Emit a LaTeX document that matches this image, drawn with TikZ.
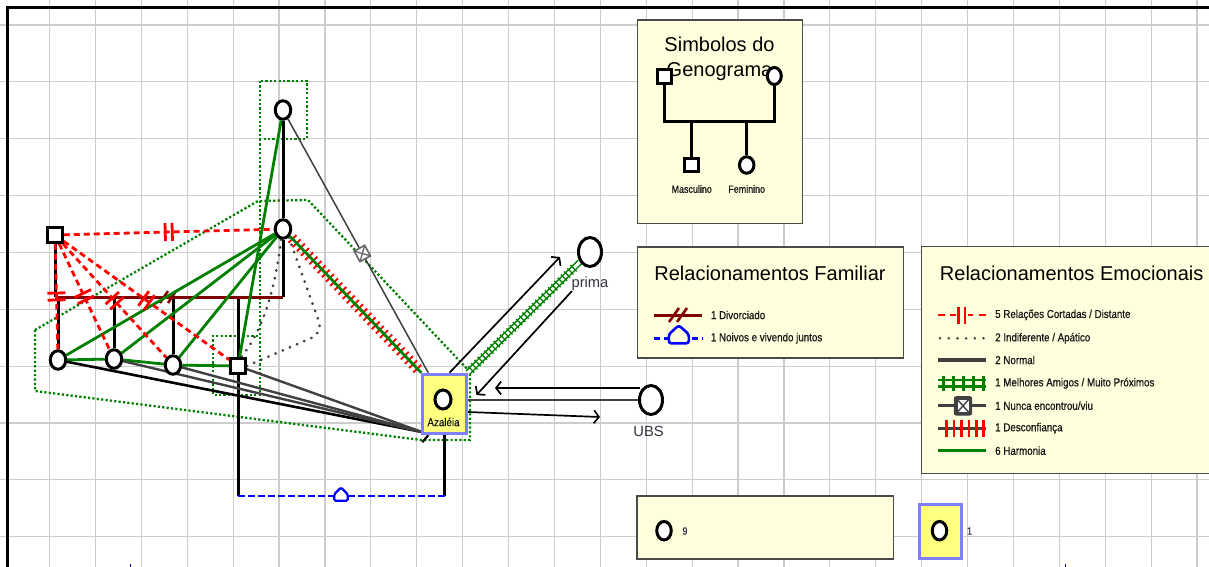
\documentclass[tikz,border=0pt]{standalone}
\usepackage{fontspec}
\setmainfont{Liberation Sans}
\newfontfamily\narrowsf[FakeStretch=0.85, FakeBold=0.5]{Liberation Sans}
\usetikzlibrary{shapes.geometric,arrows.meta,decorations.markings,calc}
\definecolor{gridgray}{HTML}{CDCDCD}
\definecolor{cream}{HTML}{FFFFDD}
\definecolor{azfill}{HTML}{FFFF80}
\definecolor{azedge}{HTML}{7F7FFF}
\definecolor{harmgreen}{HTML}{008000}
\definecolor{divred}{HTML}{800000}
\definecolor{normgray}{HTML}{404040}
\definecolor{boxedge}{HTML}{4A4A4A}
\definecolor{txtdark}{HTML}{141414}
\definecolor{lbl}{HTML}{333340}
\definecolor{noivoblue}{HTML}{0000FF}
\definecolor{cntlbl}{HTML}{303050}
\pgfdeclarelayer{gridlayer}
\pgfdeclarelayer{links}
\pgfsetlayers{gridlayer,links,main}
\tikzset{
  fem/.style={ellipse, draw=black, line width=3pt, fill=white, minimum width=15.5pt, minimum height=18.5pt, inner sep=0pt},
  masc/.style={rectangle, draw=black, line width=3pt, fill=white, minimum size=14.5pt, inner sep=0pt},
  azbox/.style={rectangle, draw=azedge, fill=azfill, line width=3pt, minimum width=43.5pt, minimum height=59.5pt, inner sep=0pt},
  legbox/.style={rectangle, draw=boxedge, fill=cream, line width=1.5pt, inner sep=0pt},
  legtitle/.style={font=\fontsize{20pt}{24pt}\selectfont, text=black, inner sep=0pt},
  legitem/.style={font=\narrowsf\fontsize{11.5pt}{13pt}\selectfont, text=txtdark, anchor=west, inner sep=0pt},
  namelbl/.style={font=\fontsize{14.7pt}{17pt}\selectfont, text=lbl, inner sep=0pt},
  cntlabel/.style={font=\narrowsf\fontsize{10.5pt}{12pt}\selectfont, text=cntlbl, inner sep=0pt},
  gen/.style={draw=black, line width=3pt},
  divline/.style={draw=divred, line width=3pt,
    postaction={decorate, decoration={markings, mark=at position 0.5 with {\draw[divred, line width=2.6pt] (-9,6) -- (-1,-6) (-1,6) -- (7,-6);}}}},
  cutrel/.style={draw=red, line width=2.8pt, dash pattern=on 6pt off 4pt,
    postaction={decorate, decoration={markings, mark=at position 0.5 with {\draw[red, solid, line width=2.8pt] (-3.5,-9) -- (-3.5,9) (3.5,-9) -- (3.5,9);}}}},
  harm/.style={draw=harmgreen, line width=2.8pt},
  normal/.style={draw=normgray, line width=2.4pt},
  normalthin/.style={draw=normgray, line width=1.5pt},
  indiff/.style={draw=normgray, line width=2.8pt, line cap=round, dash pattern=on 0.3pt off 7.5pt},
  hhold/.style={draw=harmgreen, line width=2.3pt, dash pattern=on 2.2pt off 2.2pt},
  mistrust/.style={draw=harmgreen, line width=2.8pt,
    preaction={decorate, decoration={markings, mark=between positions 0.02 and 0.98 step 6pt with {\draw[red, line width=1.9pt] (0,-5.5) -- (0,5.5);}}}},
  bestfr/.style={draw=harmgreen, line width=1.5pt, double=white, double distance=3.2pt,
    postaction={decorate, decoration={markings, mark=between positions 0.03 and 0.97 step 4.5pt with {\draw[harmgreen, line width=1.3pt] (0,-4.4) -- (0,4.4);}}}},
  nevermet/.style={draw=normgray, line width=1.5pt,
    postaction={decorate, decoration={markings, mark=at position 0.53 with {\draw[normgray!80, line width=1.6pt, fill=white] (-6,-6) rectangle (6,6); \draw[normgray!80, line width=1.3pt] (-6,-6) -- (6,6) (-6,6) -- (6,-6);}}}},
  arr/.style={draw=black, line width=1.7pt, -{Straight Barb[length=5pt,width=13pt]}},
  noivo/.style={draw=noivoblue, line width=2.3pt, dash pattern=on 7pt off 3pt},
}
\begin{document}
\begin{tikzpicture}[x=1pt,y=-1pt]
\useasboundingbox (0,0) rectangle (1209,567);

% sheet grid and the legend panels
\begin{pgfonlayer}{gridlayer}
  \fill[white] (0,0) rectangle (1209,567);
  \foreach \k in {0,...,25}
    \draw[gridgray, line width=1.2pt] ({49.5+45.9*\k},0) -- ({49.5+45.9*\k},567);
  \foreach \k in {0,...,9}
    \draw[gridgray, line width=1.2pt] (0,{25+56.86*\k}) -- (1209,{25+56.86*\k});
  \node[legbox, minimum width=165pt, minimum height=203.3pt] (symbox) at (719.8,121.7) {};
  \node[legbox, minimum width=266pt, minimum height=111.3pt] (fambox) at (770.3,302.4) {};
  \node[legbox, minimum width=320pt, minimum height=226.6pt] (emobox) at (1081.7,360) {};
  \node[legbox, minimum width=256.5pt, minimum height=63pt] (cntbox) at (765.3,527.5) {};
\end{pgfonlayer}
\draw[black, line width=3pt] (7.5,567) -- (7.5,7.5) -- (1209,7.5);
\draw[noivoblue!60!black, line width=1pt] (130,564) -- (130,567) (1065,564) -- (1065,567);

% ---------- genogram ----------
\node[fem] (gm) at (283,110) {};
\node[fem] (mom) at (283,229) {};
\node[masc] (dad) at (55,235) {};
\node[fem] (c1) at (58,360) {};
\node[fem] (c2) at (114,359) {};
\node[fem] (c3) at (173,365) {};
\node[masc] (c4) at (238,366) {};
\node[azbox] (az) at (444.5,404) {};
\node[fem, minimum width=16pt, minimum height=19pt] (azc) at (443,399.5) {};
\node[font=\narrowsf\fontsize{11.5pt}{13pt}\selectfont, text=txtdark, inner sep=0pt] (azl) at (443.5,422) {Azaléia};
\node[fem, minimum width=23pt, minimum height=29pt] (prima) at (590,252) {};
\node[namelbl] (primal) at (590,283.5) {prima};
\node[fem, minimum width=23pt, minimum height=29pt] (ubs) at (651,400) {};
\node[namelbl] (ubsl) at (648.5,431) {UBS};

\coordinate (dv) at (0,297);
\coordinate (azin) at (422,432);
\coordinate (ibend) at (323,333);
\coordinate (pin) at (560,257);
\coordinate (pout) at (572,291);
\coordinate (uin) at (495,388);
\coordinate (uout) at (600,417);
\coordinate (cpl) at (341,496);

\begin{pgfonlayer}{links}
  % household boundaries
  \draw[hhold] (35,330) -- (258,201) -- (308,200) -- (470,372) -- (470,440) -- (421,440) -- (35,391) -- cycle;
  \draw[hhold] (260,81) rectangle (307,139);
  \draw[hhold] (260,139) -- (260,395) -- (213,395) -- (213,336) -- (260,336);
  % family structure
  \draw[gen] (gm) -- (mom);
  \draw[gen] (dad) -- (dad |- dv);
  \draw[gen] (mom) -- (mom |- dv);
  \draw[gen] (c1 |- dv) -- (c1);
  \draw[gen] (c2 |- dv) -- (c2);
  \draw[gen] (c3 |- dv) -- (c3);
  \draw[gen] (c4 |- dv) -- (c4);
  \draw[divline] (dad |- dv) -- (mom |- dv);
  % cohabiting couple
  \draw[gen] (c4) -- (c4 |- cpl);
  \draw[gen] (az) -- (az |- cpl);
  \draw[noivo] (c4 |- cpl) -- (az |- cpl);
  % emotional links
  \draw[harm] (mom) -- (c1);
  \draw[harm] (mom) -- (c2);
  \draw[harm] (mom) -- (c3);
  \draw[harm] (gm) -- (c4);
  \draw[harm] (c1) -- (c2);
  \draw[harm] (c2) -- (c3);
  \draw[harm] (c3) -- (c4);
  \draw[cutrel] (dad) -- (mom);
  \draw[cutrel] (dad) -- (c1);
  \draw[cutrel] (dad) -- (c2);
  \draw[cutrel] (dad) -- (c3);
  \draw[cutrel] (dad) -- (c4);
  \draw[gen, line width=2.6pt] (c1) -- (azin);
  \draw[normal] (c2) -- (azin);
  \draw[normal] (c3) -- (azin);
  \draw[normal] (c4) -- (azin);
  \draw[black, line width=2.2pt] ($(az.south west)+(7,0)$) -- ++(-6,7);
  \draw[indiff] (mom.260) .. controls (275,290) and (263,330) .. (c4.70);
  \draw[indiff, rounded corners=12pt] (mom.305) -- (ibend) -- (c4.east);
  \draw[mistrust] (mom) -- (az.north west);
  \draw[nevermet] (gm) -- ($(az.north west)+(7,0)$);
  \draw[bestfr] (az.north east) -- (prima);
  \draw[arr] ($(az.north)+(5,0)$) -- (pin);
  \draw[arr] (pout) -- ($(az.center)+(32,-9)$);
  \draw[arr] ($(ubs.west)+(2,-12)$) -- (uin);
  \draw[normalthin] ($(az.east)+(0,-4)$) -- (ubs.west);
  \draw[arr] ($(az.east)+(0,8)$) -- (uout);
\end{pgfonlayer}
\draw[noivoblue, line width=2.2pt, fill=white, rounded corners=1.5pt]
  ($(cpl)+(-6.8,4.8)$) -- ++(0,-6.5) -- ++(6.8,-6.8) -- ++(6.8,6.8) -- ++(0,6.5) -- cycle;

% ---------- legend: genogram symbols ----------
\node[legtitle] (symt1) at (719.5,44.5) {Simbolos do};
\node[legtitle] (symt2) at (719.5,72) {Genograma};
\node[masc, minimum size=14pt] (sm) at (664.3,76.7) {};
\node[fem, minimum width=14pt, minimum height=17pt] (sf) at (774.3,76) {};
\node[masc, minimum size=13.5pt] (sch1) at (691.7,165) {};
\node[fem, minimum width=14.5pt, minimum height=16.5pt] (sch2) at (746.7,165) {};
\node[font=\narrowsf\fontsize{10.5pt}{12pt}\selectfont, text=txtdark, inner sep=0pt] (sl1) at (691.7,189) {Masculino};
\node[font=\narrowsf\fontsize{10.5pt}{12pt}\selectfont, text=txtdark, inner sep=0pt] (sl2) at (746.7,189) {Feminino};
\coordinate (sbar) at (0,121.7);
\draw[gen, line width=3pt] (sm) -- (sm |- sbar) -- (sf |- sbar) -- (sf);
\draw[gen, line width=3pt] (sch1 |- sbar) -- (sch1);
\draw[gen, line width=3pt] (sch2 |- sbar) -- (sch2);

% ---------- legend: family relations ----------
\node[legtitle] (famt) at (770,273.5) {Relacionamentos Familiar};
\node[legitem] (fam1) at (710.7,315) {1 Divorciado};
\node[legitem] (fam2) at (710.7,338.3) {1 Noivos e vivendo juntos};
\draw[divred, line width=3pt] (654,315) -- (702,315);
\draw[divred, line width=2.6pt] (669,322) -- (679,308) (677,322) -- (687,308);
\draw[noivoblue, line width=2.6pt, dash pattern=on 6pt off 3.5pt] (654,338.3) -- (702,338.3);
\draw[noivoblue, line width=2.6pt, fill=cream, rounded corners=2.5pt]
  (668.8,343.3) -- ++(0,-9) -- ++(10,-9) -- ++(10,9) -- ++(0,9) -- cycle;

% ---------- legend: emotional relations ----------
\node[legtitle] (emot) at (1071.7,273.5) {Relacionamentos Emocionais};
\node[legitem] (emo1) at (995,315) {5 Relações Cortadas / Distante};
\node[legitem] (emo2) at (995,338.3) {2 Indiferente / Apático};
\node[legitem] (emo3) at (995,360) {2 Normal};
\node[legitem] (emo4) at (995,383.3) {1 Melhores Amigos / Muito Próximos};
\node[legitem] (emo5) at (995,405.7) {1 Nunca encontrou/viu};
\node[legitem] (emo6) at (995,428.3) {1 Desconfiança};
\node[legitem] (emo7) at (995,450.7) {6 Harmonia};
% cut off
\draw[red, line width=2.6pt] (938,315) -- (944.5,315) (949.5,315) -- (955.5,315) (967.5,315) -- (973,315) (979,315) -- (986,315);
\draw[red, line width=2.6pt] (958.3,306.5) -- (958.3,323.5) (965,306.5) -- (965,323.5);
% indifferent
\foreach \i in {0,...,5} \fill[normgray] ({940+8.7*\i},338.3) circle (1.4pt);
% normal
\draw[normgray, line width=3.2pt] (938,360) -- (986,360);
% best friends
\draw[harmgreen, line width=2.8pt] (938,380) -- (986,380) (938,386.7) -- (986,386.7);
\foreach \i in {0,...,4} \draw[harmgreen, line width=2.8pt] ({943.3+10*\i},375.5) -- ({943.3+10*\i},391);
% never met
\draw[normgray, line width=3.2pt] (938,405.7) -- (986,405.7);
\draw[normgray, fill=normgray, line width=1pt, rounded corners=2pt] (954.3,396.7) rectangle (971.7,415);
\draw[fill=white, draw=none] (957.5,399.7) rectangle (968.5,412);
\draw[normgray, line width=1.4pt] (957.5,399.7) -- (968.5,412) (957.5,412) -- (968.5,399.7);
% mistrust
\draw[normgray, line width=3.2pt] (938,428.3) -- (986,428.3);
\foreach \i in {0,...,5} \draw[red, line width=2.6pt] ({946.7+7.4*\i},420) -- ({946.7+7.4*\i},437);
% harmony
\draw[harmgreen, line width=3.2pt] (938,450.7) -- (986,450.7);

% ---------- legend: counts ----------
\node[azbox, minimum width=42pt, minimum height=54pt] (cntaz) at (940,531) {};
\node[fem, minimum width=14.5pt, minimum height=18.5pt] (cntf) at (664,530.7) {};
\node[fem, minimum width=14.5pt, minimum height=18.5pt] (cntazf) at (939.5,530.7) {};
\node[cntlabel] (cnt9) at (685,531) {9};
\node[cntlabel] (cnt1) at (969.5,531) {1};
\end{tikzpicture}
\end{document}
